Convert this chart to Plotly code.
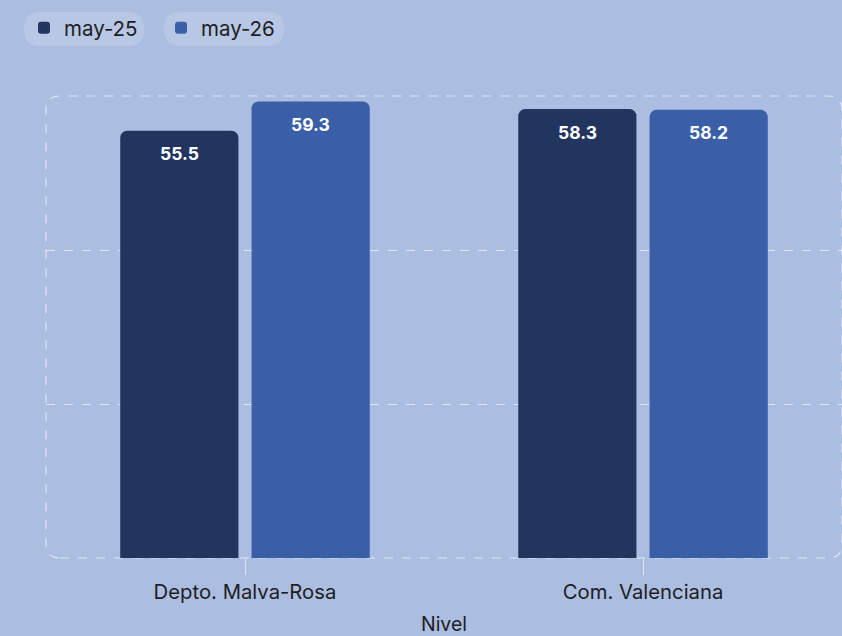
import plotly.graph_objects as go

categories = ["Depto. Malva-Rosa", "Com. Valenciana"]
series_names = ["may-25", "may-26"]
values_may25 = [55.5, 58.3]
values_may26 = [59.3, 58.2]
colors = ["#22355e", "#3a5fa6"]

BG = "#abbde1"
FONT = "Inter, Roboto, sans-serif"
TXT = "#1e1e1e"

W, H = 842, 636
ml, mr, mt, mb = 46, 0, 96, 78
pw, ph = W - ml - mr, H - mt - mb
BARGAP, GROUPGAP = 0.34, 0.10

fig = go.Figure()
for name, vals, col in zip(series_names, [values_may25, values_may26], colors):
    fig.add_trace(go.Bar(
        x=categories, y=vals, name=name, marker=dict(color=col, line=dict(width=0)),
        hoverinfo="x+y+name",
    ))

# value labels placed from the data through the axes
slot = pw / len(categories) * (1 - BARGAP) / len(series_names)
annotations = []
for i, vals in enumerate([values_may25, values_may26]):
    shift = (i - (len(series_names) - 1) / 2) * slot
    for cat, v in zip(categories, vals):
        annotations.append(dict(
            x=cat, y=v, xref="x", yref="y", text=f"{v:.1f}", showarrow=False,
            xshift=shift, yshift=-23, yanchor="middle",
            font=dict(color="white", size=17.5, family=FONT, weight="bold")))

rx, ry = 14 / pw, 14 / ph
frame = (f"M {rx},0 L {1-rx},0 Q 1,0 1,{ry} L 1,{1-ry} Q 1,1 {1-rx},1 "
         f"L {rx},1 Q 0,1 0,{1-ry} L 0,{ry} Q 0,0 {rx},0 Z")


def pill(x0, x1, y0, y1, r=16):
    # pixel box -> paper coords (legend chip background)
    X = lambda px: (px - ml) / pw
    Y = lambda py: 1 - (py - mt) / ph
    return dict(type="path", xref="paper", yref="paper", layer="below",
                fillcolor="rgba(255,255,255,0.16)", line=dict(width=0),
                path=(f"M {X(x0+r)},{Y(y0)} L {X(x1-r)},{Y(y0)} Q {X(x1)},{Y(y0)} {X(x1)},{Y((y0+y1)/2)} "
                      f"Q {X(x1)},{Y(y1)} {X(x1-r)},{Y(y1)} L {X(x0+r)},{Y(y1)} "
                      f"Q {X(x0)},{Y(y1)} {X(x0)},{Y((y0+y1)/2)} Q {X(x0)},{Y(y0)} {X(x0+r)},{Y(y0)} Z"))


fig.update_layout(
    width=W, height=H,
    margin=dict(l=ml, r=mr, t=mt, b=mb),
    paper_bgcolor=BG, plot_bgcolor=BG,
    font=dict(family=FONT, color=TXT, size=20),
    barmode="group", bargap=BARGAP, bargroupgap=GROUPGAP, barcornerradius=7,
    showlegend=True,
    legend=dict(orientation="h", x=24 / W, xref="container", y=1 - 8 / H, yref="container",
                xanchor="left", yanchor="top", font=dict(size=20.5, color=TXT),
                bgcolor="rgba(0,0,0,0)", itemwidth=30, entrywidthmode="pixels", entrywidth=92,
                traceorder="normal"),
    xaxis=dict(title=dict(text="Nivel", font=dict(size=19.5, color=TXT), standoff=25),
               automargin=False,
               showgrid=False, zeroline=False, showline=False,
               ticks="outside", ticklen=16, tickcolor="rgba(235,240,250,0.8)", tickwidth=1,
               tickfont=dict(size=20.3, color=TXT)),
    yaxis=dict(range=[0, 60], dtick=20, showticklabels=False, showgrid=True,
               gridcolor="rgba(240,244,252,0.75)", griddash="dash", gridwidth=1,
               zeroline=False, showline=False, automargin=False),
    shapes=[dict(type="path", xref="paper", yref="paper", path=frame,
                 line=dict(color="rgba(240,244,252,0.75)", width=1.2, dash="dash"),
                 layer="below"),
            pill(24, 144, 12, 46), pill(164, 284, 12, 46)],
    annotations=annotations,
)

fig.write_html("out.html", config={"displayModeBar": False},
               post_script="document.body.style.margin='0';document.body.style.overflow='hidden';")
